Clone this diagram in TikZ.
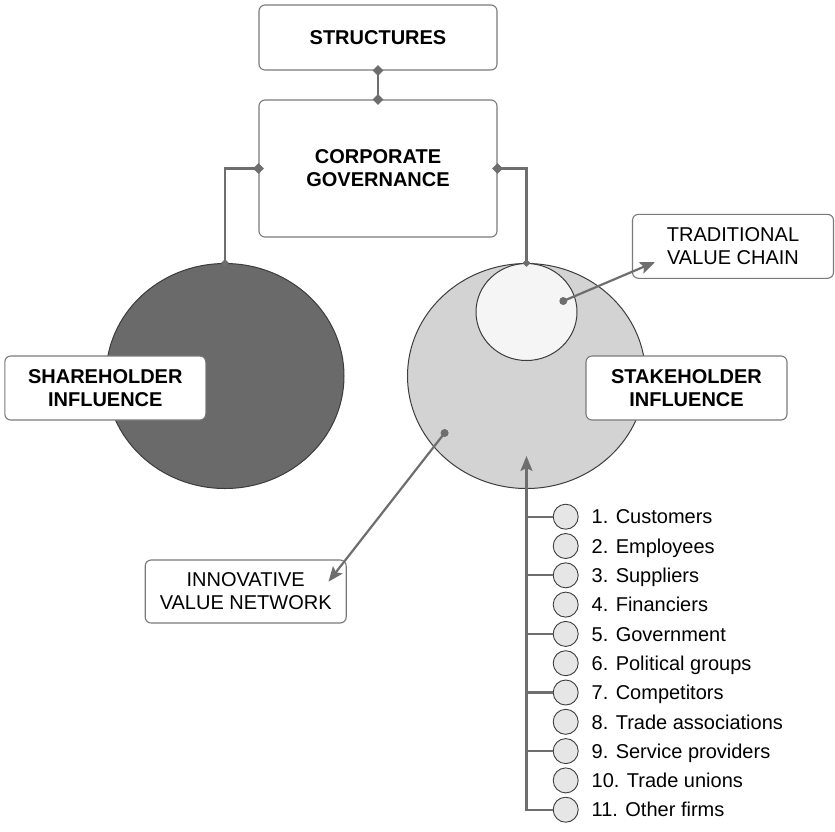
\documentclass[tikz,border=0pt]{standalone}
\usepackage{fontspec}
\setmainfont{Liberation Sans}
\usepackage{tikz}
\usetikzlibrary{shapes.geometric,arrows.meta,positioning}

\definecolor{linegray}{HTML}{6E6E6E}
\definecolor{boxgray}{HTML}{7A7A7A}
\definecolor{edgegray}{HTML}{3C3C3C}
\definecolor{darkfill}{HTML}{6A6A6A}
\definecolor{lightfill}{HTML}{D3D3D3}
\definecolor{innerfill}{HTML}{F5F5F5}
\definecolor{itemfill}{HTML}{E6E6E6}

\tikzset{
	box/.style={draw=boxgray, line width=1.1pt, rounded corners=6pt, fill=white, align=center, inner sep=0pt, font=\fontsize{20}{23}\selectfont},
	hd/.style={box, font=\fontsize{20}{23}\selectfont\bfseries},
	conn/.style={draw=linegray, line width=2.2pt},
	dmd/.style={diamond, fill=linegray, inner sep=0pt, minimum size=11pt},
	smalldmd/.style={diamond, fill=linegray, inner sep=0pt, minimum size=8pt},
	dot/.style={circle, fill=linegray, inner sep=0pt, minimum size=8pt},
	blob/.style={ellipse, draw=edgegray, line width=1pt, inner sep=0pt},
	item/.style={circle, draw=edgegray, fill=itemfill, line width=0.9pt, inner sep=0pt, minimum size=25pt},
	tip/.style={-{Stealth[length=15pt, width=12pt, inset=3pt]}}
}

\begin{document}
\begin{tikzpicture}[x=1pt, y=-1pt]
	\useasboundingbox (0,0) rectangle (835,831);
	\node[blob, fill=darkfill, minimum width=238pt, minimum height=225pt] (share) at (225,376) {};
	\node[blob, fill=lightfill, minimum width=238pt, minimum height=225pt] (stake) at (526.5,376) {};
	\node[blob, fill=innerfill, minimum width=101pt, minimum height=97pt] (chain) at (526.5,312) {};
	\node[hd, minimum width=238pt, minimum height=65pt] (struct) at (378,37.5) {STRUCTURES};
	\node[hd, minimum width=238pt, minimum height=137pt] (gov) at (378,168.5) {CORPORATE\\GOVERNANCE};
	\draw[conn] (struct.south) -- (gov.north);
	\draw[conn] (gov.west) -| (share.north);
	\draw[conn] (gov.east) -| (stake.north);
	\node[dmd] (d1) at (struct.south) {};
	\node[dmd] (d2) at (gov.north) {};
	\node[dmd] (d3) at (gov.west) {};
	\node[dmd] (d4) at (gov.east) {};
	\node[smalldmd] (d5) at (share.north) {};
	\node[smalldmd] (d6) at (stake.north) {};
	\node[hd, minimum width=201pt, minimum height=64pt] (sharelbl) at (105.3,388) {SHAREHOLDER\\INFLUENCE};
	\node[hd, minimum width=201pt, minimum height=64pt] (stakelbl) at (686.5,388) {STAKEHOLDER\\INFLUENCE};
	\node[box, minimum width=201pt, minimum height=64pt] (tvc) at (733,246.3) {TRADITIONAL\\VALUE CHAIN};
	\node[box, minimum width=201pt, minimum height=63pt] (ivn) at (245.7,591.5) {INNOVATIVE\\VALUE NETWORK};
	\node[dot] (tvcdot) at (563.3,301) {};
	\coordinate (tvctip) at (655,262);
	\draw[conn, tip] (tvcdot.center) -- (tvctip);
	\node[dot] (ivndot) at (444.6,433) {};
	\coordinate (ivntip) at (328.5,581.7);
	\draw[conn, tip] (ivndot.center) -- (ivntip);
	\foreach \i/\t in {1/Customers, 2/Employees, 3/Suppliers, 4/Financiers, 5/Government, 6/Political groups, 7/Competitors, 8/Trade associations, 9/Service providers, 10/Trade unions, 11/Other firms} {
		\node[item] (c\i) at (565.7,{487.4+29.3*\i}) {};
		\node[anchor=base west, inner sep=0pt, font=\fontsize{20}{23}\selectfont] (t\i) at (591.5,{494.6+29.3*\i}) {\i. \t};
	}
	\coordinate (listtip) at (526.5,456);
	\draw[conn, tip] (c11.west) -| (listtip);
	\foreach \i in {1,3,5,7,9}
		\draw[conn] (c\i.west) -- (c\i.west -| listtip);
\end{tikzpicture}
\end{document}
